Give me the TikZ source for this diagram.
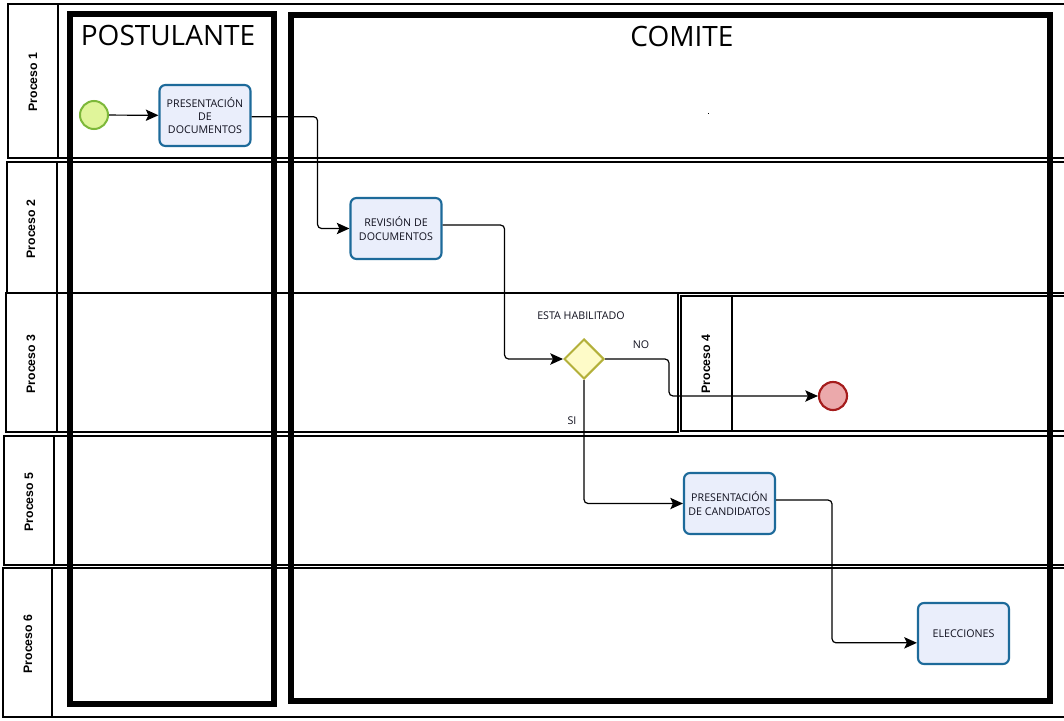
\documentclass[tikz,border=0pt]{standalone}
\usepackage{fontspec}
\setmainfont{Open Sans}
\newfontfamily\lanefont{Liberation Sans}
\usetikzlibrary{shapes.geometric,arrows.meta}
\definecolor{startfill}{HTML}{E0F59A}
\definecolor{startdraw}{HTML}{7DB83A}
\definecolor{endfill}{HTML}{EBA9AB}
\definecolor{enddraw}{HTML}{A51C1C}
\definecolor{taskfill}{HTML}{EAEEFB}
\definecolor{taskdraw}{HTML}{1D6A9A}
\definecolor{gwfill}{HTML}{FEFBC8}
\definecolor{gwdraw}{HTML}{B3B03A}
\definecolor{txt}{HTML}{10101E}
\begin{document}
\begin{tikzpicture}[x=0.75pt,y=-0.75pt,
  lane/.style={draw=black,line width=1pt},
  pool/.style={draw=black,line width=3.8pt},
  lanelabel/.style={rotate=90,font=\lanefont\bfseries\fontsize{9.2}{11}\selectfont,inner sep=0pt},
  pooltitle/.style={font=\fontsize{21}{24}\selectfont,inner sep=0pt},
  task/.style={draw=taskdraw,fill=taskfill,line width=1.6pt,rounded corners=4.5pt,
    minimum width=68.25pt,minimum height=45.75pt,inner sep=1pt,align=center,
    text=txt,font=\fontsize{8}{9.9}\selectfont},
  startev/.style={circle,draw=startdraw,fill=startfill,line width=1.5pt,minimum size=21pt,inner sep=0pt},
  endev/.style={circle,draw=enddraw,fill=endfill,line width=1.6pt,minimum size=21pt,inner sep=0pt},
  gateway/.style={diamond,draw=gwdraw,fill=gwfill,line width=1.5pt,minimum width=30pt,minimum height=30pt,inner sep=0pt,aspect=1},
  lbl/.style={text=txt,font=\fontsize{8}{9.9}\selectfont,inner sep=0pt},
  flow/.style={draw=black,line width=0.9pt,rounded corners=3pt,-{Stealth[length=9.5pt,width=8.5pt,inset=2pt]}}
]
\useasboundingbox (0,0) rectangle (1064,721);
\fill[white] (0,0) rectangle (1064,721);
% lanes
\draw[lane] (1066,4) -- (8,4) -- (8,158) -- (1066,158);
\draw[lane] (58,4) -- (58,158);
\draw[lane] (1066,162) -- (7,162) -- (7,293) -- (1066,293);
\draw[lane] (57,162) -- (57,293);
\draw[lane,line width=1.5pt] (7,293) -- (678,293);
\draw[lane] (678,293) -- (6,293) -- (6,432) -- (678,432) -- cycle;
\draw[lane] (57,293) -- (57,432);
\draw[lane] (1066,296) -- (681,296) -- (681,431) -- (1066,431);
\draw[lane] (732,296) -- (732,431);
\draw[lane] (1066,436) -- (4,436) -- (4,565) -- (1066,565);
\draw[lane] (54,436) -- (54,565);
\draw[lane] (1066,568) -- (3,568) -- (3,717) -- (1066,717);
\draw[lane] (52,568) -- (52,717);
% lane labels
\node[lanelabel] (l1) at (33,82) {Proceso 1};
\node[lanelabel] (l2) at (31,229) {Proceso 2};
\node[lanelabel] (l3) at (31,364) {Proceso 3};
\node[lanelabel] (l4) at (706,364) {Proceso 4};
\node[lanelabel] (l5) at (29,502) {Proceso 5};
\node[lanelabel] (l6) at (28,644) {Proceso 6};
% pools
\draw[pool] (70,14) rectangle (274,704);
\draw[pool] (291,15) rectangle (1050,701);
\node[pooltitle] (tp) at (168,35) {POSTULANTE};
\node[pooltitle] (tc) at (682,36) {COMITE};
\fill (707.5,112.5) rectangle (709,114);
% nodes
\node[startev] (st) at (94,115) {};
\node[task] (t1) at (205,115.5) {PRESENTACIÓN\\DE\\DOCUMENTOS};
\node[task] (t2) at (396,228.5) {REVISIÓN DE\\DOCUMENTOS};
\node[gateway] (gw) at (584,359) {};
\node[endev] (en) at (833,396) {};
\node[task] (t3) at (729.5,503.5) {PRESENTACIÓN\\DE CANDIDATOS};
\node[task] (t4) at (963.5,633.5) {ELECCIONES};
\node[lbl] (q) at (581,316) {ESTA HABILITADO};
\node[lbl] (no) at (641,345) {NO};
\node[lbl] (si) at (572,421) {SI};
% flows
\draw[flow] (st) -- (t1);
\draw[flow] ([yshift=-0.9pt]t1.east) -- ++(66,0) |- (t2.west);
\draw[flow] ([yshift=2.6pt]t2.east) -- ++(62,0) |- (gw.west);
\draw[flow] (gw.east) -- ++(64,0) |- (en.west);
\draw[flow] (gw.south) |- (t3.west);
\draw[flow] ([yshift=2.6pt]t3.east) -- ++(56,0) |- ([yshift=-7pt]t4.west);
\end{tikzpicture}
\end{document}
